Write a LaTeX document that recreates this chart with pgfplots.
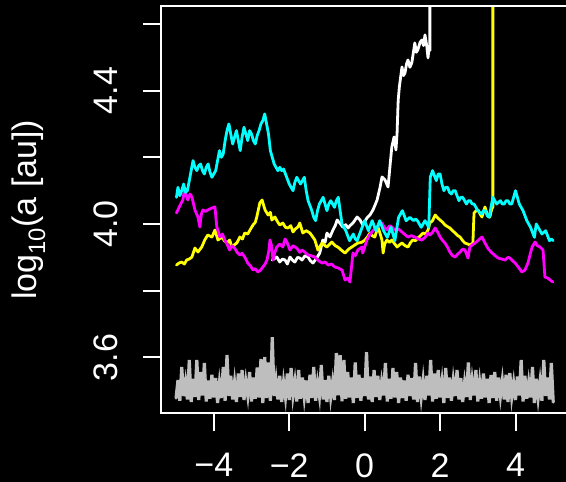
\documentclass[border=0pt]{standalone}
\usepackage{fontspec}
\setmainfont{Liberation Sans}
\usepackage{pgfplots}
\pgfplotsset{compat=1.18}
\definecolor{rgrey}{RGB}{190,190,190}
\definecolor{rcyan}{RGB}{0,255,255}
\definecolor{rmag}{RGB}{255,0,255}
\definecolor{ryel}{RGB}{255,255,0}
\begin{document}
\begin{tikzpicture}[x=1pt,y=1pt]
\fill[black] (0,0) rectangle (566,482);
\begin{axis}[
  at={(161pt,68.7pt)}, anchor=south west,
  scale only axis, width=407.3pt, height=407pt,
  xmin=-5.4, xmax=5.4, ymin=3.4324, ymax=4.6528,
  axis line style={white, line width=2pt},
  every tick/.style={white, line width=2pt},
  major tick length=18pt, tick align=outside,
  xtick pos=bottom, ytick pos=left,
  xtick={-4,-2,0,2,4}, xticklabels={−4,−2,0,2,4},
  ytick={3.6,3.8,4.0,4.2,4.4,4.6}, yticklabels={3.6,,4.0,,4.4,},
  ticklabel style={font=\fontsize{34}{40}\selectfont, text=white, inner sep=0pt},
  yticklabel style={rotate=90, anchor=south},
  xticklabel style={anchor=north},
  xticklabel shift=22pt, yticklabel shift=25pt,
  every axis y label/.style={at={(axis description cs:-0.3045,0.5)}, rotate=90, anchor=base, inner sep=0pt, font=\fontsize{34}{40}\selectfont, text=white},
  ylabel={log\textsubscript{10}(a [au])},
  clip=true,
  every axis plot/.append style={line join=round, line cap=round},
]
% grey
\addplot[rgrey, line width=3.2pt, line join=miter] coordinates {
(-5.00,3.478)(-4.95,3.532)(-4.90,3.470)(-4.85,3.571)(-4.80,3.484)(-4.75,3.526)(-4.70,3.474)(-4.65,3.592)(-4.60,3.466)(-4.55,3.536)
(-4.50,3.481)(-4.45,3.592)(-4.40,3.472)(-4.35,3.556)(-4.30,3.486)(-4.25,3.583)(-4.20,3.468)(-4.15,3.531)(-4.10,3.476)(-4.05,3.548)
(-4.00,3.480)(-3.95,3.538)(-3.90,3.463)(-3.85,3.524)(-3.80,3.478)(-3.75,3.571)(-3.70,3.470)(-3.65,3.607)(-3.60,3.484)(-3.55,3.545)
(-3.50,3.474)(-3.45,3.526)(-3.40,3.466)(-3.35,3.552)(-3.30,3.481)(-3.25,3.562)(-3.20,3.472)(-3.15,3.528)(-3.10,3.486)(-3.05,3.556)
(-3.00,3.468)(-2.95,3.540)(-2.90,3.476)(-2.85,3.570)(-2.80,3.480)(-2.75,3.595)(-2.70,3.463)(-2.65,3.601)(-2.60,3.478)(-2.55,3.585)
(-2.50,3.470)(-2.45,3.661)(-2.40,3.484)(-2.35,3.532)(-2.30,3.474)(-2.25,3.545)(-2.20,3.466)(-2.15,3.526)(-2.10,3.481)(-2.05,3.552)
(-2.00,3.472)(-1.95,3.568)(-1.90,3.486)(-1.85,3.528)(-1.80,3.468)(-1.75,3.562)(-1.70,3.476)(-1.65,3.540)(-1.60,3.480)(-1.55,3.531)
(-1.50,3.463)(-1.45,3.548)(-1.40,3.478)(-1.35,3.571)(-1.30,3.470)(-1.25,3.524)(-1.20,3.484)(-1.15,3.577)(-1.10,3.474)(-1.05,3.532)
(-1.00,3.466)(-0.95,3.545)(-0.90,3.481)(-0.85,3.526)(-0.80,3.472)(-0.75,3.613)(-0.70,3.486)(-0.65,3.607)(-0.60,3.468)(-0.55,3.592)
(-0.50,3.476)(-0.45,3.556)(-0.40,3.480)(-0.35,3.540)(-0.30,3.463)(-0.25,3.585)(-0.20,3.478)(-0.15,3.548)(-0.10,3.470)(-0.05,3.538)
(0.00,3.484)(0.05,3.616)(0.10,3.474)(0.15,3.543)(0.20,3.466)(0.25,3.562)(0.30,3.481)(0.35,3.545)(0.40,3.472)(0.45,3.526)
(0.50,3.486)(0.55,3.583)(0.60,3.468)(0.65,3.536)(0.70,3.476)(0.75,3.568)(0.80,3.480)(0.85,3.556)(0.90,3.463)(0.95,3.540)
(1.00,3.478)(1.05,3.531)(1.10,3.470)(1.15,3.548)(1.20,3.484)(1.25,3.538)(1.30,3.474)(1.35,3.583)(1.40,3.466)(1.45,3.543)
(1.50,3.481)(1.55,3.532)(1.60,3.472)(1.65,3.545)(1.70,3.486)(1.75,3.592)(1.80,3.468)(1.85,3.552)(1.90,3.476)(1.95,3.562)
(2.00,3.480)(2.05,3.528)(2.10,3.463)(2.15,3.568)(2.20,3.478)(2.25,3.540)(2.30,3.470)(2.35,3.531)(2.40,3.484)(2.45,3.562)
(2.50,3.474)(2.55,3.538)(2.60,3.466)(2.65,3.524)(2.70,3.481)(2.75,3.585)(2.80,3.472)(2.85,3.532)(2.90,3.486)(2.95,3.562)
(3.00,3.468)(3.05,3.526)(3.10,3.476)(3.15,3.552)(3.20,3.480)(3.25,3.536)(3.30,3.463)(3.35,3.547)(3.40,3.478)(3.45,3.556)
(3.50,3.470)(3.55,3.540)(3.60,3.484)(3.65,3.531)(3.70,3.474)(3.75,3.548)(3.80,3.466)(3.85,3.553)(3.90,3.481)(3.95,3.524)
(4.00,3.472)(4.05,3.543)(4.10,3.486)(4.15,3.592)(4.20,3.468)(4.25,3.545)(4.30,3.476)(4.35,3.526)(4.40,3.480)(4.45,3.571)
(4.50,3.463)(4.55,3.536)(4.60,3.478)(4.65,3.528)(4.70,3.470)(4.75,3.592)(4.80,3.484)(4.85,3.540)(4.90,3.474)(4.95,3.583)
(5.00,3.466)};
% white
\addplot[white, line width=2.8pt] coordinates {
(-2.45,3.892)(-2.33,3.901)(-2.25,3.886)(-2.18,3.895)(-2.11,3.892)(-2.05,3.880)(-1.98,3.901)(-1.90,3.890)(-1.85,3.886)(-1.78,3.900)
(-1.72,3.898)(-1.66,3.892)(-1.58,3.905)(-1.50,3.901)(-1.44,3.890)(-1.37,3.883)(-1.27,3.898)(-1.19,3.913)(-1.11,3.952)(-1.05,3.945)
(-1.00,3.973)(-0.92,3.961)(-0.84,3.982)(-0.78,3.995)(-0.73,4.012)(-0.66,4.003)(-0.58,3.991)(-0.50,3.998)(-0.44,3.988)(-0.38,3.996)
(-0.31,4.003)(-0.20,4.021)(-0.12,4.012)(-0.05,3.997)(0.06,4.018)(0.14,4.027)(0.22,4.042)(0.28,4.058)(0.33,4.072)(0.41,4.111)
(0.46,4.141)(0.54,4.132)(0.62,4.111)(0.67,4.171)(0.72,4.231)(0.78,4.261)(0.83,4.222)(0.86,4.273)(0.88,4.342)(0.89,4.372)
(0.92,4.411)(0.99,4.471)(1.03,4.445)(1.07,4.453)(1.11,4.480)(1.15,4.492)(1.20,4.470)(1.25,4.483)(1.30,4.520)(1.33,4.543)
(1.37,4.515)(1.41,4.522)(1.47,4.545)(1.52,4.552)(1.56,4.535)(1.60,4.567)(1.65,4.531)(1.68,4.498)(1.71,4.531)(1.73,4.520)(1.73,5.5)};
% yellow
\addplot[ryel, line width=2.8pt] coordinates {
(-4.99,3.877)(-4.92,3.883)(-4.85,3.886)(-4.78,3.880)(-4.72,3.892)(-4.65,3.895)(-4.58,3.901)(-4.50,3.928)(-4.42,3.916)(-4.32,3.931)
(-4.24,3.952)(-4.16,3.967)(-4.05,3.961)(-3.97,3.982)(-3.89,3.952)(-3.79,3.961)(-3.72,3.950)(-3.65,3.943)(-3.58,3.952)(-3.52,3.931)
(-3.45,3.938)(-3.39,3.943)(-3.31,3.961)(-3.24,3.955)(-3.18,3.973)(-3.10,3.970)(-3.04,3.982)(-2.96,3.997)(-2.90,4.005)(-2.86,4.021)
(-2.78,4.063)(-2.72,4.072)(-2.64,4.042)(-2.56,4.027)(-2.50,4.035)(-2.46,4.012)(-2.38,4.021)(-2.30,4.005)(-2.25,3.997)(-2.17,4.003)
(-2.10,3.990)(-2.03,3.988)(-1.96,3.995)(-1.90,3.976)(-1.84,3.985)(-1.77,3.991)(-1.72,4.003)(-1.64,3.973)(-1.55,3.980)(-1.45,3.973)
(-1.38,3.962)(-1.32,3.952)(-1.24,3.922)(-1.13,3.943)(-1.05,3.935)(-1.00,3.931)(-0.92,3.940)(-0.87,3.946)(-0.78,3.935)(-0.71,3.931)
(-0.60,3.920)(-0.52,3.913)(-0.42,3.925)(-0.34,3.931)(-0.25,3.938)(-0.18,3.943)(-0.08,3.945)(0.01,3.952)(0.08,3.962)(0.14,3.973)
(0.20,3.965)(0.27,3.961)(0.35,3.991)(0.40,3.975)(0.46,3.952)(0.49,3.913)(0.53,3.940)(0.59,3.952)(0.66,3.945)(0.72,3.952)
(0.80,3.940)(0.86,3.931)(0.93,3.938)(0.99,3.943)(1.07,3.935)(1.15,3.931)(1.22,3.945)(1.28,3.952)(1.35,3.950)(1.41,3.958)
(1.48,3.965)(1.55,3.973)(1.62,3.970)(1.68,3.982)(1.73,4.003)(1.80,4.010)(1.87,4.027)(1.94,4.018)(2.00,4.012)(2.07,4.005)
(2.13,3.997)(2.20,3.992)(2.26,3.988)(2.33,3.980)(2.40,3.973)(2.47,3.965)(2.53,3.961)(2.60,3.950)(2.66,3.943)(2.73,3.940)
(2.79,3.937)(2.87,3.943)(2.90,4.033)(2.96,4.040)(3.01,4.042)(3.06,4.030)(3.11,4.021)(3.19,4.051)(3.25,4.030)(3.32,4.021)
(3.37,4.045)(3.40,4.051)(3.40,5.5)};
% magenta
\addplot[rmag, line width=2.8pt] coordinates {
(-4.99,4.033)(-4.90,4.055)(-4.82,4.072)(-4.77,4.108)(-4.73,4.085)(-4.69,4.072)(-4.63,4.090)(-4.58,4.081)(-4.50,4.042)(-4.42,4.021)
(-4.37,3.991)(-4.33,4.030)(-4.29,4.042)(-4.22,4.038)(-4.16,4.042)(-4.05,4.048)(-3.97,4.051)(-3.92,3.991)(-3.84,3.961)(-3.77,3.970)
(-3.71,3.952)(-3.65,3.940)(-3.58,3.922)(-3.52,3.935)(-3.45,3.928)(-3.38,3.915)(-3.31,3.907)(-3.25,3.912)(-3.18,3.901)(-3.10,3.883)
(-3.03,3.875)(-2.96,3.862)(-2.90,3.866)(-2.83,3.856)(-2.76,3.862)(-2.70,3.871)(-2.64,3.880)(-2.59,3.892)(-2.54,3.920)(-2.51,3.952)
(-2.47,3.935)(-2.43,3.892)(-2.38,3.915)(-2.33,3.931)(-2.25,3.940)(-2.17,3.931)(-2.11,3.955)(-2.06,3.946)(-1.98,3.922)(-1.90,3.935)
(-1.80,3.928)(-1.72,3.915)(-1.66,3.922)(-1.58,3.915)(-1.50,3.907)(-1.42,3.905)(-1.32,3.901)(-1.22,3.890)(-1.13,3.883)(-1.05,3.886)
(-0.97,3.877)(-0.88,3.880)(-0.79,3.871)(-0.70,3.868)(-0.60,3.862)(-0.52,3.832)(-0.45,3.838)(-0.39,3.826)(-0.31,3.913)(-0.25,3.905)
(-0.18,3.922)(-0.07,3.931)(-0.05,3.913)(0.06,3.952)(0.12,3.965)(0.19,3.976)(0.26,3.985)(0.33,3.991)(0.40,3.998)(0.46,4.003)
(0.52,3.990)(0.59,3.982)(0.66,3.995)(0.72,3.991)(0.80,3.982)(0.90,3.985)(0.99,3.976)(1.07,3.968)(1.15,3.961)(1.24,3.965)
(1.33,3.961)(1.42,3.955)(1.52,3.952)(1.60,3.960)(1.68,3.973)(1.73,3.967)(1.80,3.975)(1.87,3.988)(1.94,3.975)(2.00,3.961)
(2.07,3.950)(2.13,3.943)(2.20,3.930)(2.26,3.916)(2.33,3.905)(2.40,3.901)(2.47,3.910)(2.53,3.916)(2.60,3.925)(2.66,3.922)
(2.74,3.898)(2.79,3.931)(2.86,3.938)(2.93,3.943)(3.02,3.952)(3.11,3.961)(3.19,3.943)(3.28,3.925)(3.38,3.913)(3.46,3.905)
(3.54,3.898)(3.63,3.895)(3.72,3.892)(3.80,3.900)(3.85,3.898)(3.92,3.890)(3.99,3.883)(4.08,3.870)(4.17,3.856)(4.25,3.862)
(4.33,3.883)(4.39,3.910)(4.44,3.931)(4.52,3.946)(4.58,3.935)(4.65,3.931)(4.73,3.922)(4.78,3.841)(4.85,3.838)(4.92,3.832)
(4.99,3.826)};
% cyan
\addplot[rcyan, line width=2.8pt] coordinates {
(-4.99,4.080)(-4.95,4.110)(-4.90,4.085)(-4.85,4.100)(-4.80,4.120)(-4.75,4.095)(-4.70,4.100)(-4.65,4.130)(-4.60,4.160)(-4.55,4.190)
(-4.50,4.170)(-4.45,4.160)(-4.40,4.175)(-4.35,4.180)(-4.30,4.160)(-4.25,4.150)(-4.20,4.170)(-4.15,4.180)(-4.10,4.155)(-4.05,4.140)
(-4.00,4.150)(-3.95,4.160)(-3.90,4.190)(-3.85,4.220)(-3.80,4.200)(-3.75,4.210)(-3.70,4.250)(-3.65,4.280)(-3.60,4.300)(-3.55,4.270)
(-3.50,4.240)(-3.45,4.260)(-3.40,4.280)(-3.35,4.250)(-3.30,4.220)(-3.25,4.260)(-3.20,4.290)(-3.15,4.270)(-3.10,4.250)(-3.05,4.280)
(-3.00,4.270)(-2.95,4.250)(-2.90,4.240)(-2.85,4.265)(-2.80,4.280)(-2.75,4.300)(-2.70,4.310)(-2.65,4.330)(-2.60,4.300)(-2.55,4.270)
(-2.50,4.220)(-2.45,4.200)(-2.40,4.180)(-2.35,4.170)(-2.30,4.160)(-2.25,4.170)(-2.20,4.160)(-2.15,4.165)(-2.10,4.150)(-2.05,4.135)
(-2.00,4.120)(-1.95,4.110)(-1.90,4.100)(-1.85,4.125)(-1.80,4.140)(-1.75,4.130)(-1.70,4.120)(-1.65,4.130)(-1.60,4.140)(-1.55,4.100)
(-1.50,4.070)(-1.45,4.055)(-1.40,4.040)(-1.35,4.020)(-1.30,4.010)(-1.25,4.040)(-1.20,4.060)(-1.15,4.070)(-1.10,4.080)(-1.05,4.060)
(-1.00,4.040)(-0.95,4.060)(-0.90,4.070)(-0.85,4.060)(-0.80,4.050)(-0.75,4.070)(-0.70,4.080)(-0.65,4.040)(-0.60,4.000)(-0.55,3.990)
(-0.50,3.980)(-0.45,3.965)(-0.40,3.950)(-0.35,3.960)(-0.30,3.970)(-0.25,3.955)(-0.20,3.950)(-0.15,3.965)(-0.10,3.980)(-0.05,3.995)
(0.00,4.010)(0.05,3.995)(0.10,3.980)(0.15,3.995)(0.20,4.010)(0.25,3.995)(0.30,3.980)(0.35,3.995)(0.40,4.010)(0.45,3.995)
(0.50,3.980)(0.55,3.970)(0.60,3.960)(0.65,3.975)(0.70,3.990)(0.75,3.970)(0.80,3.950)(0.85,3.985)(0.90,4.020)(0.95,4.030)
(1.00,4.040)(1.05,4.025)(1.10,4.010)(1.15,4.015)(1.20,4.020)(1.25,4.015)(1.30,4.010)(1.35,4.015)(1.40,4.010)(1.45,4.000)
(1.50,3.990)(1.55,4.000)(1.60,4.010)(1.65,4.000)(1.70,3.990)(1.74,4.140)(1.80,4.160)(1.85,4.145)(1.90,4.130)(1.95,4.150)
(2.00,4.150)(2.05,4.120)(2.10,4.100)(2.15,4.110)(2.20,4.110)(2.25,4.095)(2.30,4.090)(2.35,4.100)(2.40,4.100)(2.45,4.085)
(2.50,4.070)(2.55,4.080)(2.60,4.080)(2.65,4.070)(2.70,4.060)(2.75,4.070)(2.80,4.070)(2.85,4.060)(2.90,4.060)(2.95,4.050)
(3.00,4.040)(3.05,4.035)(3.10,4.030)(3.15,4.040)(3.20,4.040)(3.25,4.025)(3.30,4.020)(3.35,4.050)(3.40,4.080)(3.45,4.070)
(3.50,4.060)(3.55,4.065)(3.60,4.070)(3.65,4.060)(3.70,4.060)(3.75,4.070)(3.80,4.070)(3.85,4.060)(3.90,4.060)(3.95,4.080)
(4.00,4.100)(4.05,4.080)(4.10,4.060)(4.15,4.050)(4.20,4.040)(4.25,4.025)(4.30,4.010)(4.35,4.000)(4.40,3.990)(4.45,3.975)
(4.50,3.960)(4.55,4.000)(4.60,3.990)(4.65,3.980)(4.70,3.970)(4.75,3.975)(4.80,3.980)(4.85,3.965)(4.90,3.950)(4.95,3.955)
(5.00,3.950)};
\draw[white, line width=2pt] (rel axis cs:0,1) -- (rel axis cs:1,1);
\end{axis}
\pgfresetboundingbox
\path[use as bounding box] (0,0) rectangle (566,482);
\end{tikzpicture}
\end{document}
